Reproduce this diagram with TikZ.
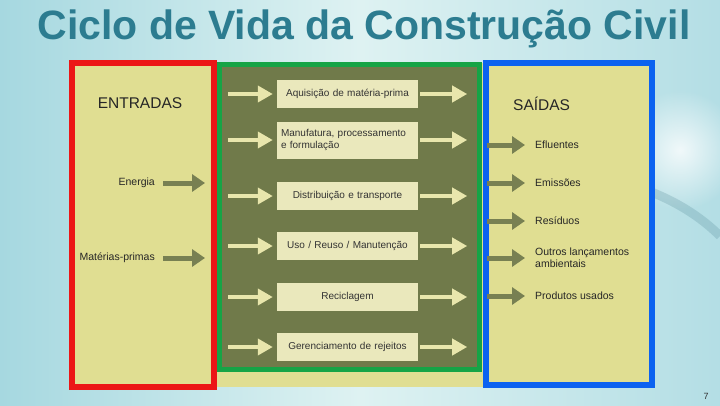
\documentclass[tikz,border=0pt]{standalone}
\usepackage{fontspec}
\setmainfont{Liberation Sans}
\usetikzlibrary{arrows.meta, positioning, fadings}
\definecolor{titleteal}{RGB}{44, 124, 144}
\definecolor{bgcyan}{RGB}{166, 216, 224}
\definecolor{bglight}{RGB}{222, 242, 242}
\definecolor{panelyellow}{RGB}{224, 222, 146}
\definecolor{olivefill}{RGB}{112, 122, 74}
\definecolor{boxcream}{RGB}{234, 232, 188}
\definecolor{arrowcream}{RGB}{232, 230, 172}
\definecolor{arrowolive}{RGB}{120, 128, 82}
\definecolor{framered}{RGB}{236, 22, 22}
\definecolor{framegreen}{RGB}{22, 164, 70}
\definecolor{frameblue}{RGB}{12, 98, 240}
\tikzfading[name=glowfade, inner color=transparent!0, outer color=transparent!100]
\tikzset{
  frame/.style={
    rectangle, inner sep=0pt, line width=6pt
  },
  stagebox/.style={
    rectangle, fill=boxcream, text=black!80,
    text width=133pt, align=center,
    font=\fontsize{10}{12}\selectfont, inner sep=4pt, minimum height=28pt
  },
  sidelabel/.style={
    inner sep=2pt, text=black!85, font=\fontsize{10.5}{12}\selectfont
  },
  headlabel/.style={
    inner sep=0pt, text=black!85, font=\fontsize{15.5}{18}\selectfont
  },
  carr/.style={-{Triangle[width=16pt, length=15pt]}, line width=4.5pt, color=arrowcream},
  sarr/.style={-{Triangle[width=17pt, length=13pt]}, line width=5pt, color=arrowolive},
}

\begin{document}
\begin{tikzpicture}[x=1pt, y=-1pt]
    \useasboundingbox (0,0) rectangle (720,405);
    % background
    \shade[left color=bgcyan, right color=bgcyan!85!white, middle color=bglight]
      (0,0) rectangle (720,405);
    \fill[white, opacity=0.8, path fading=glowfade] (680,150) circle (60);
    \draw[titleteal!70!gray, opacity=0.22, line width=9pt]
      (560,172) .. controls (620,176) and (680,196) .. (720,236);

    \node[font=\fontsize{41}{48}\selectfont\bfseries, text=titleteal, inner sep=0pt]
      (title) at (364,29) {Ciclo de Vida da Construção Civil};

    % panels
    \node[rectangle, fill=panelyellow, minimum width=580pt, minimum height=324pt, inner sep=0pt]
      (panel) at (362,225) {};
    \node[frame, draw=framered, minimum width=142pt, minimum height=324pt]
      (entradas) at (143,225) {};
    \node[frame, draw=frameblue, minimum width=166pt, minimum height=322pt]
      (saidas) at (569,224) {};
    \node[frame, draw=framegreen, fill=olivefill, line width=5pt, minimum width=260pt, minimum height=305pt]
      (ciclo) at (349.5,217) {};

    % stages
    \node[stagebox] (aq) at (347.5,94)  {Aquisição de matéria-prima};
    \node[stagebox, align=left, minimum height=37pt] (mf) at (347.5,140)
      {Manufatura, processamento\\e formulação};
    \node[stagebox] (dt) at (347.5,196) {Distribuição e transporte};
    \node[stagebox] (ur) at (347.5,246) {Uso / Reuso / Manutenção};
    \node[stagebox] (rc) at (347.5,297) {Reciclagem};
    \node[stagebox] (gr) at (347.5,347) {Gerenciamento de rejeitos};

    \foreach \b in {aq, mf, dt, ur, rc, gr} {
      \coordinate (\b-in) at ([xshift=-49pt]\b.west);
      \coordinate (\b-out) at ([xshift=49pt]\b.east);
      \draw[carr, shorten >=4pt] (\b-in) -- (\b);
      \draw[carr, shorten <=2pt] (\b) -- (\b-out);
    }

    % inputs
    \node[headlabel] (inhead) at (140,103) {ENTRADAS};
    \node[sidelabel, anchor=east] (en) at (157,183) {Energia};
    \node[sidelabel, anchor=east] (mp) at (157,258) {Matérias-primas};
    \coordinate (en-tip) at (205,183);
    \coordinate (mp-tip) at (205,258);
    \draw[sarr, shorten <=6pt] (en) -- (en-tip);
    \draw[sarr, shorten <=6pt] (mp) -- (mp-tip);

    % outputs
    \node[headlabel, anchor=west] (outhead) at (513,104) {SAÍDAS};
    \node[sidelabel, anchor=west] (ef) at (533,145) {Efluentes};
    \node[sidelabel, anchor=west] (em) at (533,183) {Emissões};
    \node[sidelabel, anchor=west] (rs) at (533,221) {Resíduos};
    \node[sidelabel, anchor=west, align=left, font=\fontsize{10.5}{12}\selectfont] (ol) at (533,258)
      {Outros lançamentos\\ambientais};
    \node[sidelabel, anchor=west] (pu) at (533,296) {Produtos usados};
    \foreach \o in {ef, em, rs, ol, pu} {
      \coordinate (\o-tail) at (487,0 |- \o.west);
      \draw[sarr, shorten >=8pt] (\o-tail) -- (\o.west);
    }

    \node[font=\fontsize{9}{10}\selectfont, text=black!80, inner sep=0pt] (pagenum) at (706,396) {7};
  \end{tikzpicture}
\end{document}
